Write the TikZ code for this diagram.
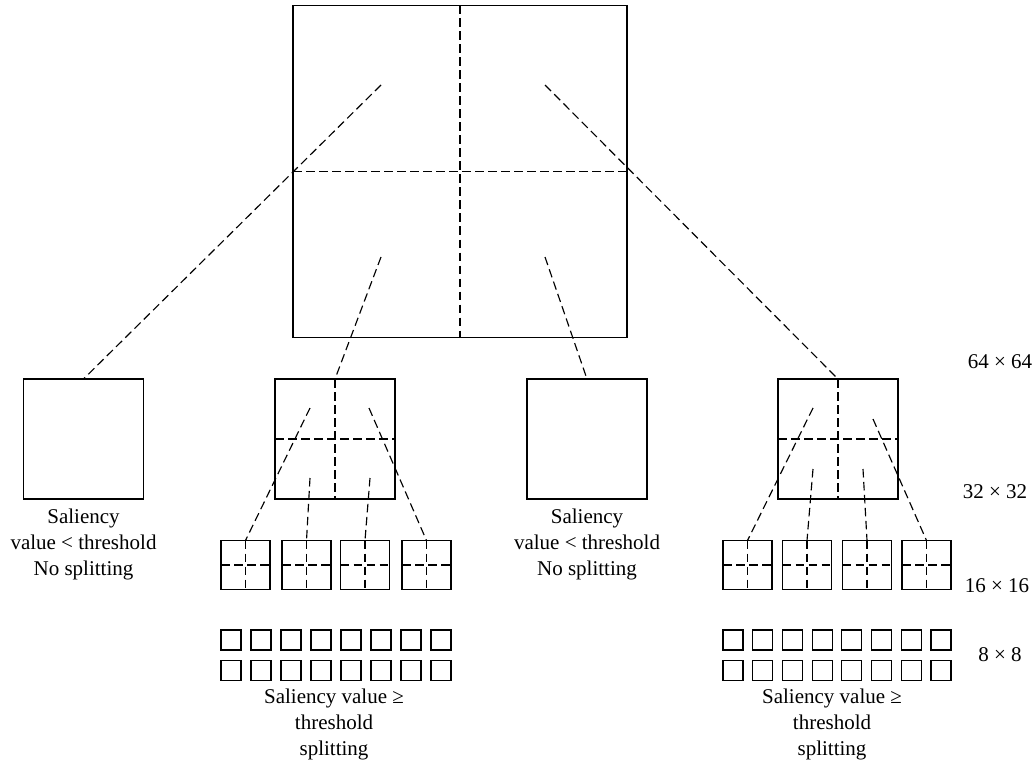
\documentclass[tikz,border=0pt]{standalone}
\usepackage{fontspec}
\setmainfont{Liberation Serif}
\begin{document}
\begin{tikzpicture}[x=1pt,y=-1pt,
  box/.style={draw,line width=1.4pt,inner sep=0pt,outer sep=0pt},
  sbox/.style={draw,line width=1.2pt,inner sep=0pt,outer sep=0pt},
  dsh/.style={line width=1.15pt,dash pattern=on 8.5pt off 4.5pt},
  lab/.style={align=center,font=\fontsize{21}{26}\selectfont,inner sep=0pt},
]
\useasboundingbox (0,0) rectangle (1032,767);

% 64x64 block
\node[box,minimum width=334pt,minimum height=332pt] (big) at (460,171.5) {};
\draw[dsh] (big.north) -- (big.south);
\draw[dsh] (big.west) -- (big.east);

% 32x32 blocks
\foreach \n/\x in {A/83.5,B/335,C/587,D/838}
  \node[box,minimum size=120pt] (\n) at (\x,439) {};
\foreach \n in {B,D}{
  \draw[dsh] (\n.north) -- (\n.south);
  \draw[dsh] (\n.west) -- (\n.east);
}

% connectors from 64x64
\coordinate (q1) at (381,85);
\coordinate (q2) at (545,85);
\coordinate (q3) at (381,257);
\coordinate (q4) at (545,257);
\draw[dsh] (q1) -- (A.north);
\draw[dsh] (q3) -- (B.north);
\draw[dsh] (q4) -- (C.north);
\draw[dsh] (q2) -- (D.north);

% 16x16 blocks
\foreach \i/\x in {1/245.5,2/306.5,3/365,4/426.5}{
  \node[sbox,minimum size=49pt] (b\i) at (\x,565) {};
  \draw[dsh] (b\i.north) -- (b\i.south);
  \draw[dsh] (b\i.west) -- (b\i.east);
}
\foreach \i/\x in {1/747.5,2/807,3/867,4/926.5}{
  \node[sbox,minimum size=49pt] (d\i) at (\x,565) {};
  \draw[dsh] (d\i.north) -- (d\i.south);
  \draw[dsh] (d\i.west) -- (d\i.east);
}

% connectors from 32x32
\coordinate (bq1) at (310,408);
\coordinate (bq2) at (369,408);
\coordinate (bq3) at (310,478);
\coordinate (bq4) at (370,478);
\draw[dsh] (bq1) -- (b1.north);
\draw[dsh] (bq3) -- (b2.north);
\draw[dsh] (bq4) -- (b3.north);
\draw[dsh] (bq2) -- (b4.north);
\coordinate (dq1) at (813,408);
\coordinate (dq2) at (873,419);
\coordinate (dq3) at (813,469);
\coordinate (dq4) at (863,469);
\draw[dsh] (dq1) -- (d1.north);
\draw[dsh] (dq3) -- (d2.north);
\draw[dsh] (dq4) -- (d3.north);
\draw[dsh] (dq2) -- (d4.north);

% 8x8 blocks
\foreach \i in {0,...,7}{
  \node[sbox,minimum size=20pt] (pa\i) at ({231+30*\i},640) {};
  \node[sbox,minimum size=20pt] (pb\i) at ({231+30*\i},670.5) {};
  \node[sbox,minimum size=20pt] (ra\i) at ({733+29.7*\i},640) {};
  \node[sbox,minimum size=20pt] (rb\i) at ({733+29.7*\i},670.5) {};
}

% labels
\node[lab] (tA) at (83.5,544) {Saliency\\value < threshold\\No splitting};
\node[lab] (tC) at (587,544) {Saliency\\value < threshold\\No splitting};
\node[lab] (tB) at (334,724) {Saliency value ≥\\threshold\\splitting};
\node[lab] (tD) at (832,724) {Saliency value ≥\\threshold\\splitting};

\node[lab] (s64) at (1000,362) {64 × 64};
\node[lab] (s32) at (995,492) {32 × 32};
\node[lab] (s16) at (997,586) {16 × 16};
\node[lab] (s8) at (1000,655) {8 × 8};
\end{tikzpicture}
\end{document}
